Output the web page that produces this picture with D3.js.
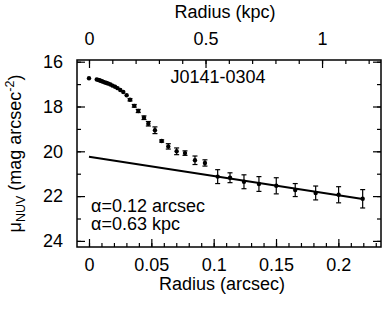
<!DOCTYPE html>
<html>
<head>
<meta charset="utf-8">
<script src="https://cdn.jsdelivr.net/npm/d3@7"></script>
<style>
  body { margin: 0; background: #fff; }
  svg { display: block; font-family: "Liberation Sans", Arial, sans-serif; }
  .axis text { font-size: 18px; fill: #000; }
  .axis line { stroke: #000; stroke-width: 1.2; }
</style>
</head>
<body>
<svg id="chart" width="383" height="314"></svg>
<script>
// surface brightness profile
var radius = [0, 0.0062, 0.0072, 0.0083, 0.0093, 0.0104, 0.0115, 0.0128, 0.0142, 0.0156,
  0.0172, 0.0190, 0.0209, 0.0229, 0.0251, 0.0275, 0.0302, 0.0329, 0.0363, 0.0395,
  0.0441, 0.0476, 0.0529, 0.0583, 0.0636, 0.0703, 0.0770, 0.0850, 0.0930, 0.1032,
  0.1131, 0.1243, 0.1363, 0.1502, 0.1654, 0.1818, 0.2002, 0.2195];
var mu = [16.74, 16.79, 16.81, 16.83, 16.85, 16.87, 16.90, 16.93, 16.95, 16.98,
  17.02, 17.07, 17.12, 17.18, 17.26, 17.35, 17.50, 17.70, 17.97, 18.20,
  18.50, 18.77, 19.06, 19.54, 19.78, 20.00, 20.08, 20.40, 20.52, 21.13,
  21.18, 21.36, 21.46, 21.54, 21.73, 21.86, 21.94, 22.12];
var muErr = [0, 0.02, 0.02, 0.02, 0.02, 0.02, 0.02, 0.02, 0.02, 0.02,
  0.02, 0.02, 0.03, 0.03, 0.03, 0.03, 0.04, 0.05, 0.06, 0.07,
  0.08, 0.10, 0.15, 0.05, 0.12, 0.15, 0.10, 0.19, 0.14, 0.31,
  0.22, 0.31, 0.33, 0.36, 0.29, 0.31, 0.36, 0.41];

// exponential disk fit
var fitR = [0, 0.2195];
var fitMu = [20.24, 22.13];

var kpcPerArcsec = 5.35;
var xMajor = [0, 0.05, 0.1, 0.15, 0.2];
var xMajorLabels = ["0", "0.05", "0.1", "0.15", "0.2"];
var kpcMajor = [0, 0.5, 1];
var kpcMajorLabels = ["0", "0.5", "1"];
var yMajor = [16, 18, 20, 22, 24];

var svg = d3.select("#chart");
var mLeft = 77, mRight = 381, mTop = 60, mBottom = 247;

var x = d3.scaleLinear().domain([-0.00962, 0.2342]).range([mLeft, mRight]);
var y = d3.scaleLinear().domain([15.924, 24.272]).range([mTop, mBottom]);
var xk = d3.scaleLinear()
    .domain(x.domain().map(function(d) { return d * kpcPerArcsec; }))
    .range([mLeft, mRight]);

function minor(scale, step) {
  var dm = scale.domain(), out = [];
  var lo = Math.ceil(Math.min(dm[0], dm[1]) / step - 1e-6);
  var hi = Math.floor(Math.max(dm[0], dm[1]) / step + 1e-6);
  for (var i = lo; i <= hi; i++) out.push(+(i * step).toFixed(6));
  return out;
}

// bottom axis
svg.append("g").attr("class", "axis").attr("transform", "translate(0," + mBottom + ")")
  .call(d3.axisBottom(x).tickValues(minor(x, 0.01)).tickSizeInner(-4).tickSizeOuter(0).tickFormat(""));
svg.append("g").attr("class", "axis").attr("transform", "translate(0," + mBottom + ")")
  .call(d3.axisBottom(x).tickValues(xMajor).tickSizeInner(-8).tickSizeOuter(0).tickPadding(11)
    .tickFormat(function(d, i) { return xMajorLabels[i]; }));

// top axis in kpc
svg.append("g").attr("class", "axis").attr("transform", "translate(0," + mTop + ")")
  .call(d3.axisTop(xk).tickValues(minor(xk, 0.1)).tickSizeInner(-4).tickSizeOuter(0).tickFormat(""));
svg.append("g").attr("class", "axis").attr("transform", "translate(0," + mTop + ")")
  .call(d3.axisTop(xk).tickValues(kpcMajor).tickSizeInner(-8).tickSizeOuter(0).tickPadding(15)
    .tickFormat(function(d, i) { return kpcMajorLabels[i]; }));

// left and right axes
svg.append("g").attr("class", "axis").attr("transform", "translate(" + mLeft + ",0)")
  .call(d3.axisLeft(y).tickValues(minor(y, 1)).tickSizeInner(-4).tickSizeOuter(0).tickFormat(""));
svg.append("g").attr("class", "axis").attr("transform", "translate(" + mLeft + ",0)")
  .call(d3.axisLeft(y).tickValues(yMajor).tickSizeInner(-8).tickSizeOuter(0).tickPadding(14));
svg.append("g").attr("class", "axis").attr("transform", "translate(" + mRight + ",0)")
  .call(d3.axisRight(y).tickValues(minor(y, 1)).tickSizeInner(-4).tickSizeOuter(0).tickFormat(""));
svg.append("g").attr("class", "axis").attr("transform", "translate(" + mRight + ",0)")
  .call(d3.axisRight(y).tickValues(yMajor).tickSizeInner(-8).tickSizeOuter(0).tickFormat(""));

svg.selectAll(".axis .domain").remove();

// frame
svg.append("rect")
  .attr("x", mLeft).attr("y", mTop)
  .attr("width", mRight - mLeft).attr("height", mBottom - mTop)
  .attr("fill", "none").attr("stroke", "#000").attr("stroke-width", 1.5);

// fit line
svg.append("line")
  .attr("x1", x(fitR[0])).attr("y1", y(fitMu[0]))
  .attr("x2", x(fitR[1])).attr("y2", y(fitMu[1]))
  .attr("stroke", "#000").attr("stroke-width", 2);

// data points with error bars
var pts = radius.map(function(r, i) { return { r: r, m: mu[i], e: muErr[i] }; });
var g = svg.append("g").selectAll("g").data(pts).enter().append("g");

g.filter(function(d) { return d.e > 0.04; }).each(function(d) {
  var s = d3.select(this), cx = x(d.r);
  s.append("line").attr("x1", cx).attr("x2", cx)
    .attr("y1", y(d.m - d.e)).attr("y2", y(d.m + d.e))
    .attr("stroke", "#000").attr("stroke-width", 1.2);
  [d.m - d.e, d.m + d.e].forEach(function(v) {
    s.append("line").attr("x1", cx - 2.5).attr("x2", cx + 2.5)
      .attr("y1", y(v)).attr("y2", y(v))
      .attr("stroke", "#000").attr("stroke-width", 1.2);
  });
});
g.append("circle")
  .attr("cx", function(d) { return x(d.r); })
  .attr("cy", function(d) { return y(d.m); })
  .attr("r", 2.2).attr("fill", "#000");

// labels
svg.append("text").attr("x", 225).attr("y", 18).attr("text-anchor", "middle")
  .style("font-size", "18px").text("Radius (kpc)");
svg.append("text").attr("x", 222).attr("y", 290).attr("text-anchor", "middle")
  .style("font-size", "18px").text("Radius (arcsec)");
svg.append("text").attr("x", 218).attr("y", 83).attr("text-anchor", "middle")
  .style("font-size", "18px").text("J0141-0304");
svg.append("text").attr("x", 91).attr("y", 212)
  .style("font-size", "18px").text("\u03b1=0.12 arcsec");
svg.append("text").attr("x", 91).attr("y", 230)
  .style("font-size", "18px").text("\u03b1=0.63 kpc");

var yt = svg.append("text")
  .attr("transform", "translate(21," + (mTop + mBottom) / 2 + ") rotate(-90)")
  .attr("text-anchor", "middle").style("font-size", "18px");
yt.append("tspan").text("\u03bc");
yt.append("tspan").attr("dy", 4).style("font-size", "12.5px").text("NUV");
yt.append("tspan").attr("dy", -4).text(" (mag arcsec");
yt.append("tspan").attr("dy", -7).style("font-size", "12.5px").text("-2");
yt.append("tspan").attr("dy", 7).text(")");
</script>
</body>
</html>
